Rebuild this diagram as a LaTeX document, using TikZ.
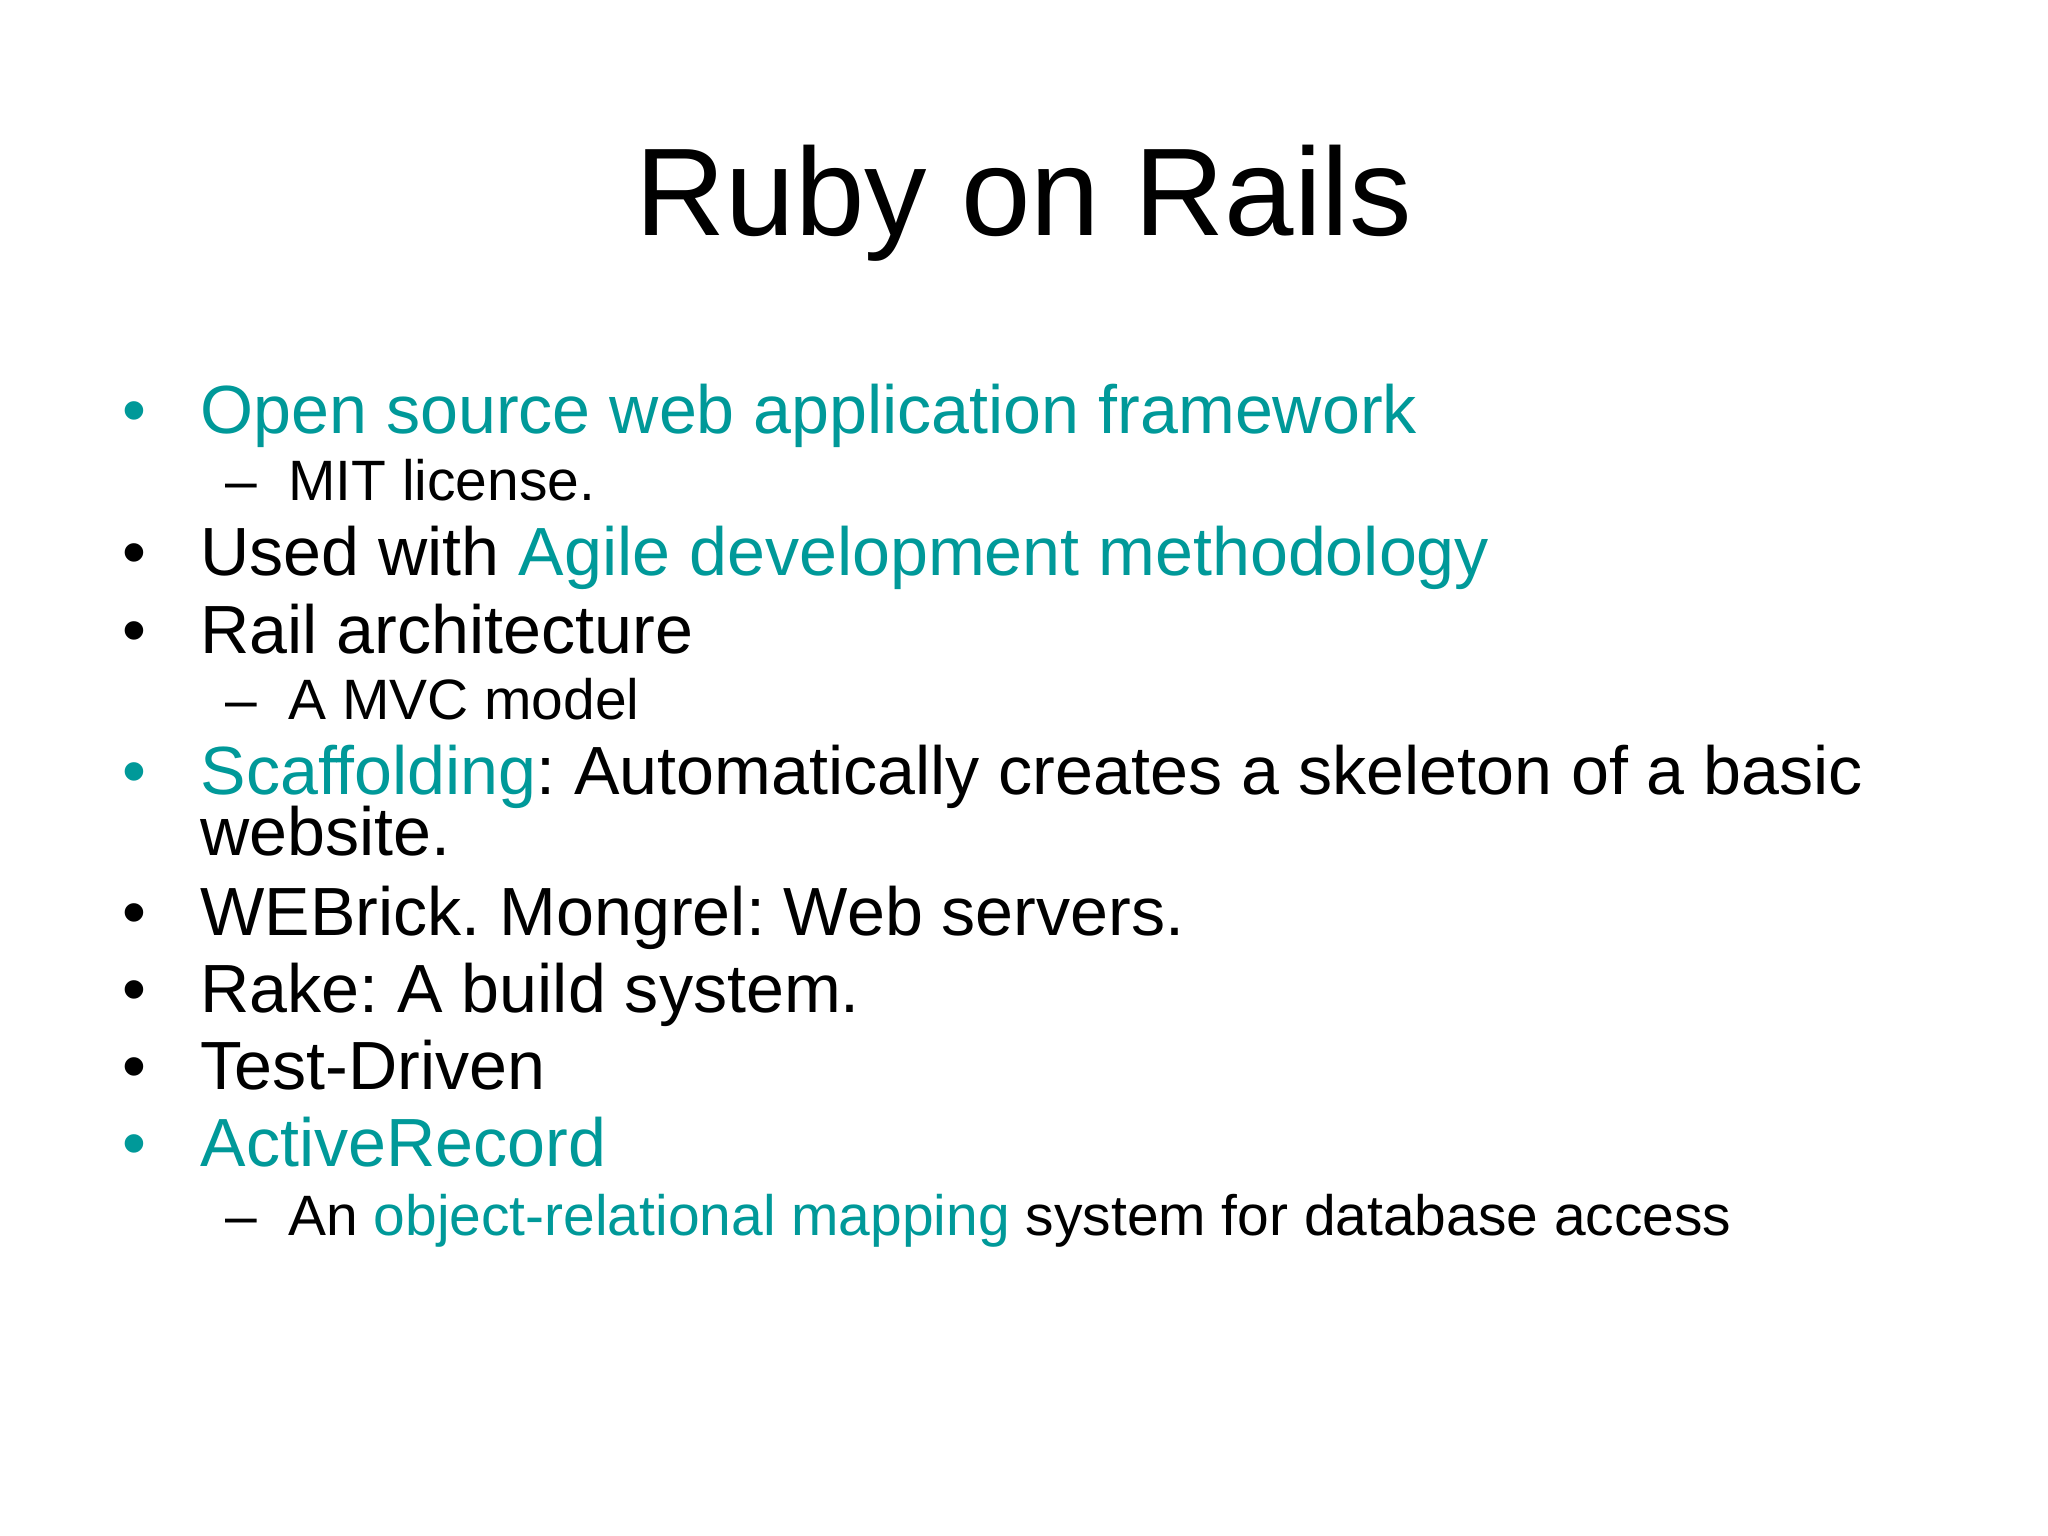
\documentclass[tikz,border=0pt]{standalone}
\usepackage{fontspec}
\setmainfont{Liberation Sans}
\definecolor{teal}{RGB}{0,153,153}
\begin{document}
\frenchspacing
\begin{tikzpicture}[x=0.01306cm,y=-0.01306cm,
  big/.style={anchor=base west,inner sep=0pt,font=\fontsize{19.4}{23}\selectfont},
  small/.style={anchor=base west,inner sep=0pt,font=\fontsize{16.2}{19}\selectfont},
  bul/.style={anchor=base,inner sep=0pt,font=\fontsize{19.4}{23}\selectfont}]
\useasboundingbox[fill=white] (0,0) rectangle (1568,1176);
\node[anchor=base,inner sep=0pt,font=\fontsize{35.5}{42}\selectfont] (title) at (784,180) {Ruby on Rails};
% bullets
\node[bul,teal] (b1) at (103,332) {•};
\node[big,teal] (t1) at (153,332) {Open source web application framework};
\node[small] (s1) at (172,383) {–\hspace{0.55em}MIT license.};
\node[bul] (b2) at (103,441) {•};
\node[big] (t2) at (153,441) {Used with \textcolor{teal}{Agile development methodology}};
\node[bul] (b3) at (103,500) {•};
\node[big] (t3) at (153,500) {Rail architecture};
\node[small] (s3) at (172,551) {–\hspace{0.55em}A MVC model};
\node[bul,teal] (b4) at (103,608) {•};
\node[big] (t4) at (153,608) {\textcolor{teal}{Scaffolding}: Automatically creates a skeleton of a basic};
\node[big] (t4b) at (153,655) {website.};
\node[bul] (b5) at (103,716) {•};
\node[big] (t5) at (153,716) {WEBrick. Mongrel: Web servers.};
\node[bul] (b6) at (103,775) {•};
\node[big] (t6) at (153,775) {Rake: A build system.};
\node[bul] (b7) at (103,834) {•};
\node[big] (t7) at (153,834) {Test-Driven};
\node[bul,teal] (b8) at (103,893) {•};
\node[big,teal] (t8) at (153,893) {ActiveRecord};
\node[small] (s8) at (172,946) {–\hspace{0.55em}An \textcolor{teal}{object-relational mapping} system for database access};
\end{tikzpicture}
\end{document}
